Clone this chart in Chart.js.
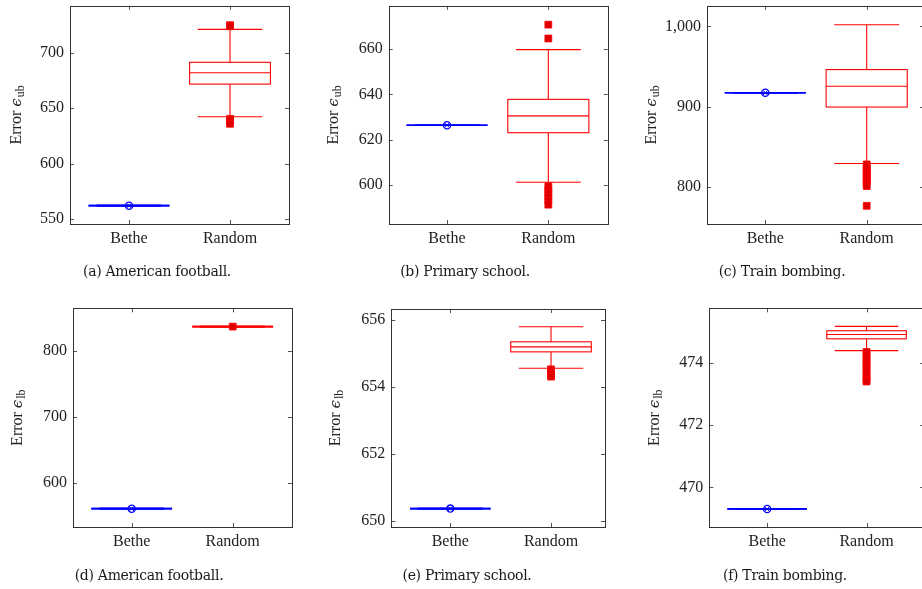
<!DOCTYPE html>
<html>
<head>
<meta charset="utf-8">
<script src="https://cdn.jsdelivr.net/npm/chart.js@4.4.1/dist/chart.umd.min.js"></script>
<style>
  body { margin: 0; background: #fff; overflow: hidden; width: 922px; height: 589px; position: relative; }
  canvas { position: absolute; }
  .cap { position: absolute; font: 14px 'DejaVu Serif'; line-height: 18px; letter-spacing: -0.3px; color: #1a1a1a; transform: translateX(-50%); white-space: nowrap; }
</style>
</head>
<body>
<script>
const categories = ["Bethe", "Random"];

// Bethe runs give one value per network
const betheUB = [562, 626.4, 917.3];
const betheLB = [561.5, 650.36, 469.31];

// Random runs: [lower whisker, q1, median, q3, upper whisker]
const randomA = [642.3, 671.8, 682, 691.5, 721.2];
const randomB = [601.3, 623.1, 630.5, 637.8, 659.7];
const randomC = [829.2, 899.5, 925.5, 946.2, 1002];
const randomD = [837.3, 837.3, 837.3, 837.3, 837.3];
const randomE = [654.55, 655.04, 655.19, 655.34, 655.79];
const randomF = [474.39, 474.77, 474.91, 475.03, 475.17];

// outliers of the random runs
const outliersA = [725, 724, 640.5, 638.5, 636];
const outliersB = [670.7, 664.6, 599.6, 598, 596.4, 594.8, 593.1, 591.4];
const outliersC = [828, 825, 822, 819, 816, 813, 810, 807, 804, 801, 776.4];
const outliersD = [837.3];
const outliersE = [654.52, 654.45, 654.38, 654.3];
const outliersF = [474.35, 474.25, 474.15, 474.05, 473.95, 473.85, 473.75, 473.65, 473.55, 473.45, 473.4];

// y axis limits and ticks
const rangeA = [545.5, 742.5], ticksA = [550, 600, 650, 700];
const rangeB = [582.9, 679], ticksB = [600, 620, 640, 660];
const rangeC = [753.7, 1025.7], ticksC = [800, 900, 1000];
const rangeD = [533.8, 865], ticksD = [600, 700, 800];
const rangeE = [649.81, 656.32], ticksE = [650, 652, 654, 656];
const rangeF = [468.73, 475.75], ticksF = [470, 472, 474];

const captions = ["(a) American football.", "(b) Primary school.", "(c) Train bombing.",
                  "(d) American football.", "(e) Primary school.", "(f) Train bombing."];

const panels = [
  {left: 0,   top: 0,   w: 305, L: 70,    R: 289,   T: 5,     B: 224, xr: [0.416, 2.584], tx: 15.5,  cx: 157, sub: "ub",
   bethe: betheUB[0], stats: randomA, out: outliersA, yr: rangeA, ticks: ticksA},
  {left: 310, top: 0,   w: 305, L: 388.7, R: 607.7, T: 5,     B: 224, xr: [0.4245, 2.586], tx: 332.5, cx: 465, sub: "ub",
   bethe: betheUB[1], stats: randomB, out: outliersB, yr: rangeB, ticks: ticksB},
  {left: 620, top: 0,   w: 310, L: 707,   R: 924,   T: 5,     B: 224, xr: [0.425, 2.565], tx: 650.5, cx: 782, sub: "ub",
   bethe: betheUB[2], stats: randomC, out: outliersC, yr: rangeC, ticks: ticksC},
  {left: 0,   top: 290, w: 305, L: 73,    R: 292,   T: 308.3, B: 527, xr: [0.419, 2.587], tx: 17,    cx: 149, sub: "lb",
   bethe: betheLB[0], stats: randomD, out: outliersD, yr: rangeD, ticks: ticksD},
  {left: 310, top: 290, w: 305, L: 391.3, R: 605,   T: 309,   B: 527, xr: [0.414, 2.536], tx: 335,   cx: 467, sub: "lb",
   bethe: betheLB[1], stats: randomE, out: outliersE, yr: rangeE, ticks: ticksE},
  {left: 620, top: 290, w: 310, L: 709.3, R: 930,   T: 308.3, B: 527, xr: [0.418, 2.58], tx: 654,   cx: 785, sub: "lb",
   bethe: betheLB[2], stats: randomF, out: outliersF, yr: rangeF, ticks: ticksF}
];

Chart.defaults.font.family = "'Liberation Serif'";
Chart.defaults.font.size = 16;
Chart.defaults.color = "#222";

// boxes, whiskers and medians, placed through the chart scales
const boxPlugin = {
  id: "boxes",
  beforeDatasetsDraw(chart, args, opts) {
    const {ctx, scales: {x, y}} = chart;
    ctx.save();
    opts.items.forEach(it => {
      const [lo, q1, med, q3, hi] = it.stats;
      const cx = x.getPixelForValue(it.pos);
      const half = x.getPixelForValue(it.pos + 0.4) - cx;
      const cap = half * 0.8;
      ctx.strokeStyle = it.color;
      // a collapsed box (all stats equal) reads as a heavier single line
      ctx.lineWidth = q1 === q3 ? 1.7 : 1.1;
      const line = (x1, y1, x2, y2) => { ctx.beginPath(); ctx.moveTo(x1, y1); ctx.lineTo(x2, y2); ctx.stroke(); };
      line(cx, y.getPixelForValue(lo), cx, y.getPixelForValue(q1));
      line(cx, y.getPixelForValue(q3), cx, y.getPixelForValue(hi));
      line(cx - cap, y.getPixelForValue(lo), cx + cap, y.getPixelForValue(lo));
      line(cx - cap, y.getPixelForValue(hi), cx + cap, y.getPixelForValue(hi));
      const yt = y.getPixelForValue(q3), yb = y.getPixelForValue(q1);
      ctx.strokeRect(cx - half, yt, 2 * half, yb - yt);
      line(cx - half, y.getPixelForValue(med), cx + half, y.getPixelForValue(med));
    });
    ctx.restore();
  }
};

// axis frame with inward ticks on all four sides
const framePlugin = {
  id: "frame",
  afterDatasetsDraw(chart) {
    const {ctx, chartArea: a, scales: {x, y}} = chart;
    ctx.save();
    ctx.lineWidth = 1;
    ctx.strokeStyle = "#555";
    y.ticks.forEach(t => {
      const py = Math.round(y.getPixelForValue(t.value)) + 0.5;
      ctx.beginPath();
      ctx.moveTo(a.left, py); ctx.lineTo(a.left + 4, py);
      ctx.moveTo(a.right, py); ctx.lineTo(a.right - 4, py);
      ctx.stroke();
    });
    x.ticks.forEach(t => {
      const px = Math.round(x.getPixelForValue(t.value)) + 0.5;
      ctx.beginPath();
      ctx.moveTo(px, a.top); ctx.lineTo(px, a.top + 4);
      ctx.moveTo(px, a.bottom); ctx.lineTo(px, a.bottom - 4);
      ctx.stroke();
    });
    ctx.strokeStyle = "#333";
    ctx.strokeRect(Math.round(a.left) + 0.5, Math.round(a.top) + 0.5,
                   Math.round(a.right - a.left), Math.round(a.bottom - a.top));
    ctx.restore();
  }
};

// rotated y title "Error ϵ" with subscript
const titlePlugin = {
  id: "ytitle",
  afterDraw(chart, args, o) {
    const {ctx, chartArea: a} = chart;
    const main = "Error ", eps = "\u03f5", sub = o.sub;
    ctx.save();
    ctx.fillStyle = "#222";
    ctx.font = "16px 'Liberation Serif'";
    const w1 = ctx.measureText(main).width;
    ctx.font = "italic 15px 'DejaVu Serif'";
    const w2 = ctx.measureText(eps).width;
    ctx.font = "12px 'Liberation Serif'";
    const w3 = ctx.measureText(sub).width;
    const total = w1 + w2 + 1 + w3;
    ctx.translate(o.x + 5, (a.top + a.bottom) / 2);
    ctx.rotate(-Math.PI / 2);
    ctx.textBaseline = "alphabetic";
    let px = -total / 2;
    ctx.font = "16px 'Liberation Serif'";
    ctx.fillText(main, px, 0); px += w1;
    ctx.font = "italic 15px 'DejaVu Serif'";
    ctx.fillText(eps, px, 0); px += w2 + 1;
    ctx.font = "12px 'Liberation Serif'";
    ctx.fillText(sub, px, 3);
    ctx.restore();
  }
};

panels.forEach((p, i) => {
  const h = 265;
  const cv = document.createElement("canvas");
  cv.width = p.w; cv.height = h;
  cv.style.left = p.left + "px"; cv.style.top = p.top + "px";
  document.body.appendChild(cv);

  const cap = document.createElement("div");
  cap.className = "cap";
  cap.textContent = captions[i];
  cap.style.left = p.cx + "px";
  cap.style.top = (p.top === 0 ? 262 : 566) + "px";
  document.body.appendChild(cap);

  const yWidth = p.L - p.left;
  const xHeight = h - (p.B - p.top);

  new Chart(cv, {
    type: "scatter",
    data: {
      datasets: [
        {
          data: p.out.map(v => ({x: 2, y: v})),
          pointStyle: "rect",
          pointRadius: 4.8,
          backgroundColor: "#dd0000",
          borderColor: "rgba(255,0,0,0.85)",
          borderWidth: 1
        },
        {
          data: [{x: 1, y: p.bethe}],
          pointStyle: "circle",
          pointRadius: 3.6,
          backgroundColor: "rgba(0,0,0,0)",
          borderColor: "#0000ff",
          borderWidth: 1.3
        },
        {
          data: [{x: 1, y: p.bethe}],
          pointStyle: "crossRot",
          pointRadius: 3.4,
          borderColor: "#0000ff",
          borderWidth: 1
        }
      ]
    },
    options: {
      responsive: false,
      animation: false,
      layout: {padding: {top: p.T - p.top, right: p.w - (p.R - p.left), left: 0, bottom: 0}},
      scales: {
        x: {
          type: "linear",
          min: p.xr[0],
          max: p.xr[1],
          grid: {display: false, drawTicks: false},
          border: {display: false},
          afterBuildTicks: s => { s.ticks = [{value: 1}, {value: 2}]; },
          ticks: {padding: 5, maxRotation: 0, callback: v => categories[v - 1]},
          afterFit: s => { s.height = xHeight; s.paddingLeft = 0; s.paddingRight = 0; }
        },
        y: {
          type: "linear",
          min: p.yr[0],
          max: p.yr[1],
          grid: {display: false, drawTicks: false},
          border: {display: false},
          afterBuildTicks: s => { s.ticks = p.ticks.map(v => ({value: v})); },
          ticks: {padding: 6},
          afterFit: s => { s.width = yWidth; s.paddingTop = 0; s.paddingBottom = 0; }
        }
      },
      plugins: {
        legend: {display: false},
        tooltip: {enabled: false},
        boxes: {items: [
          {pos: 1, stats: [p.bethe, p.bethe, p.bethe, p.bethe, p.bethe], color: "#0000ff"},
          {pos: 2, stats: p.stats, color: "#ff0000"}
        ]},
        ytitle: {x: p.tx - p.left, sub: p.sub}
      }
    },
    plugins: [boxPlugin, framePlugin, titlePlugin]
  });
});
</script>
</body>
</html>
